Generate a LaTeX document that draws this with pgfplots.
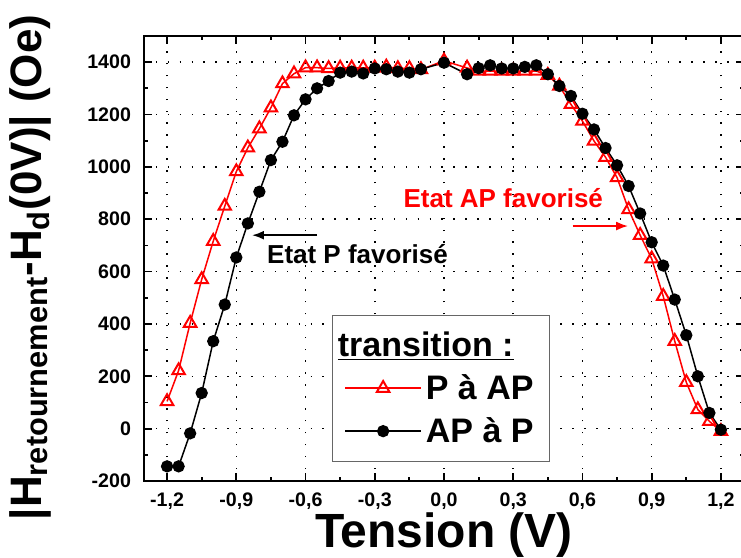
\documentclass[border=0pt]{standalone}
\usepackage{fontspec}
\setmainfont{Liberation Sans}
\usepackage{pgfplots}
\pgfplotsset{compat=1.18}
\usetikzlibrary{arrows.meta}

\begin{document}
\begin{tikzpicture}
\begin{axis}[
    width=300pt, height=222.5pt, scale only axis,
    xmin=-1.3, xmax=1.3, ymin=-200, ymax=1500,
    xtick={-1.2,-0.9,-0.6,-0.3,0,0.3,0.6,0.9,1.2},
    ytick={-200,0,200,400,600,800,1000,1200,1400},
    minor x tick num=1, minor y tick num=1,
    tick align=inside,
    major tick length=4pt, minor tick length=2.2pt,
    every tick/.style={black, line width=0.9pt},
    axis line style={line width=0.9pt},
    grid=major,
    major grid style={black, line width=0.75pt, dash pattern=on 0.75pt off 5.2pt},
    /pgf/number format/assume math mode=true,
    tick label style={font=\bfseries\fontsize{9.8}{11}\selectfont},
    xticklabel style={/pgf/number format/fixed, /pgf/number format/fixed zerofill,
        /pgf/number format/precision=1, /pgf/number format/use comma, yshift=-2.5pt},
    yticklabel style={/pgf/number format/1000 sep={}, xshift=-3pt},
    xlabel={Tension (V)},
    xlabel style={font=\bfseries\fontsize{24}{26}\selectfont, at={(axis description cs:0.5,0)}, anchor=base, yshift=-33.5pt},
    ylabel={|H\textsubscript{retournement}-H\textsubscript{d}(0V)| (Oe)},
    ylabel style={font=\bfseries\fontsize{22}{24}\selectfont, at={(axis description cs:-0.19,0.48)}, anchor=center},
    legend style={at={(axis description cs:0.313,0.373)}, anchor=north west,
        draw=black!60, line width=0.6pt, fill=white,
        font=\bfseries\fontsize{17}{19}\selectfont,
        inner xsep=6pt, inner ysep=6pt, row sep=3.5pt},
    legend cell align=left,
    legend image code/.code={\draw[mark repeat=2,mark phase=2] plot coordinates {(0pt,0pt) (19pt,0pt) (38pt,0pt)};},
]
\coordinate (SW) at (rel axis cs:0,0);

\addlegendimage{empty legend}
\addlegendentry{\hspace*{-44pt}\underline{transition :}}

% P a AP
\addplot[red, line width=0.75pt, mark=triangle, mark size=3.6pt,
    mark options={solid, fill=white, draw=red, line width=1pt}] coordinates {
(-1.2,104) (-1.15,222) (-1.1,403) (-1.05,570) (-1.0,716) (-0.95,850) (-0.9,982)
(-0.85,1073) (-0.8,1146) (-0.75,1226) (-0.7,1318) (-0.65,1356) (-0.6,1379)
(-0.55,1379) (-0.5,1376) (-0.45,1378) (-0.4,1378) (-0.35,1378) (-0.3,1378)
(-0.25,1382) (-0.2,1376) (-0.15,1376) (-0.1,1372) (0,1405) (0.1,1378)
(0.15,1366) (0.2,1366) (0.25,1366) (0.3,1366) (0.35,1366) (0.4,1366)
(0.45,1350) (0.5,1309) (0.55,1239) (0.6,1175) (0.65,1099) (0.7,1037)
(0.75,959) (0.8,837) (0.85,739) (0.9,649) (0.95,506) (1.0,334) (1.05,177)
(1.1,73) (1.15,28) (1.2,-10)
};
\addlegendentry{P à AP}

% AP a P
\addplot[black, line width=0.75pt, mark=*, mark size=2.7pt,
    mark options={solid, fill=black}] coordinates {
(-1.2,-144) (-1.15,-144) (-1.1,-18) (-1.05,136) (-1.0,334) (-0.95,474)
(-0.9,654) (-0.85,784) (-0.8,905) (-0.75,1026) (-0.7,1096) (-0.65,1197)
(-0.6,1258) (-0.55,1300) (-0.5,1328) (-0.45,1360) (-0.4,1364) (-0.35,1357)
(-0.3,1376) (-0.25,1373) (-0.2,1364) (-0.15,1360) (-0.1,1373) (0,1398)
(0.1,1354) (0.15,1377) (0.2,1388) (0.25,1376) (0.3,1376) (0.35,1382)
(0.4,1388) (0.45,1354) (0.5,1309) (0.55,1271) (0.6,1203) (0.65,1143)
(0.7,1072) (0.75,1006) (0.8,927) (0.85,822) (0.9,712) (0.95,623) (1.0,493)
(1.05,357) (1.1,200) (1.15,60) (1.2,-4)
};
\addlegendentry{AP à P}

% annotations
\draw[black, line width=1pt, -{Latex[length=6pt,width=4.5pt]}] (axis cs:-0.55,739) -- (axis cs:-0.832,739);
\node[anchor=base west, inner sep=0pt, font=\bfseries\fontsize{13}{15}\selectfont] at (axis cs:-0.768,631) {Etat P favorisé};
\draw[red, line width=1pt, -{Latex[length=6pt,width=4.5pt]}] (axis cs:0.557,774) -- (axis cs:0.798,774);
\node[anchor=base west, inner sep=0pt, text=red, font=\bfseries\fontsize{13}{15}\selectfont] at (axis cs:-0.177,845) {Etat AP favorisé};
\end{axis}
\pgfresetboundingbox
\path[use as bounding box] ([xshift=-72pt,yshift=-38.5pt]SW) rectangle ([xshift=298.5pt,yshift=240.5pt]SW);
\end{tikzpicture}
\end{document}
